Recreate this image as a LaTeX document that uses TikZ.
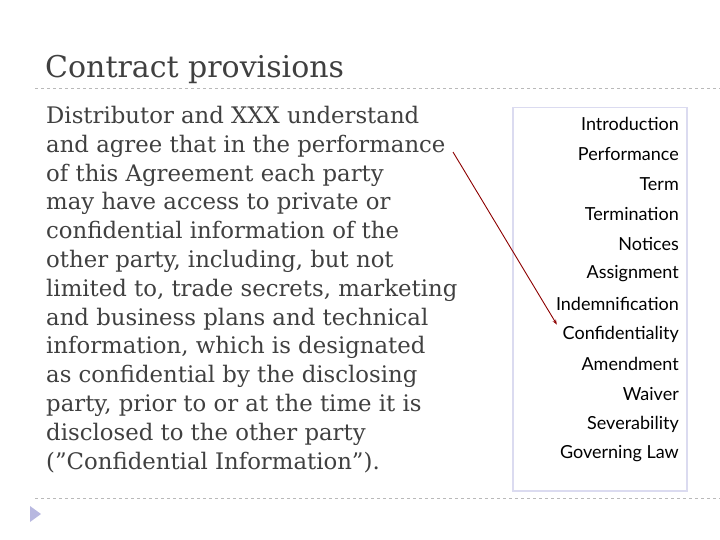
\documentclass[tikz,border=0pt]{standalone}
\usepackage{fontspec}
\usetikzlibrary{arrows.meta}
\setmainfont{DejaVu Serif}
\newfontfamily\listfont{Lato}
\begin{document}
\begin{tikzpicture}[x=1pt,y=-1pt,
  rule/.style={draw=gray!55,dashed,line width=0.6pt},
  item/.style={anchor=east,font=\listfont\fontsize{18}{20}\selectfont,inner sep=0pt},
  body/.style={anchor=north west,align=left,inner sep=0pt,text=black!75,font=\fontsize{22.8}{28.8}\selectfont}]
\useasboundingbox (0,0) rectangle (720,540);
\node[anchor=base west,inner sep=0pt,text=black!75,font=\fontsize{30}{34}\selectfont] (title) at (45,78) {Contract provisions};
\draw[rule] (35,88) -- (720,88);
\draw[rule] (35,498) -- (720,498);
\fill[gray!60!blue!40] (30,506) -- (41,514) -- (30,522) -- cycle;
\node[body] (txt) at (46,106) {Distributor and XXX understand\\and agree that in the performance\\of this Agreement each party\\may have access to private or\\confidential information of the\\other party, including, but not\\limited to, trade secrets, marketing\\and business plans and technical\\information, which is designated\\as confidential by the disclosing\\party, prior to or at the time it is\\disclosed to the other party\\(''Confidential Information'').};
\node[draw=gray!60!blue!20,line width=1.5pt,minimum width=174,minimum height=383,anchor=north west,inner sep=0pt] (box) at (512,107) {};
\foreach \t [count=\i] in {Introduction,Performance,Term,Termination,Notices,Assignment,Indemnification,Confidentiality,Amendment,Waiver,Severability,Governing Law}
  \node[item] (i\i) at (679,124+30*\i-30) {\t};
\coordinate (s) at (453,152);
\draw[red!55!black,line width=0.9pt,-{Stealth[length=5pt]},shorten >=11pt] (s) -- (i8.west);
\end{tikzpicture}
\end{document}
